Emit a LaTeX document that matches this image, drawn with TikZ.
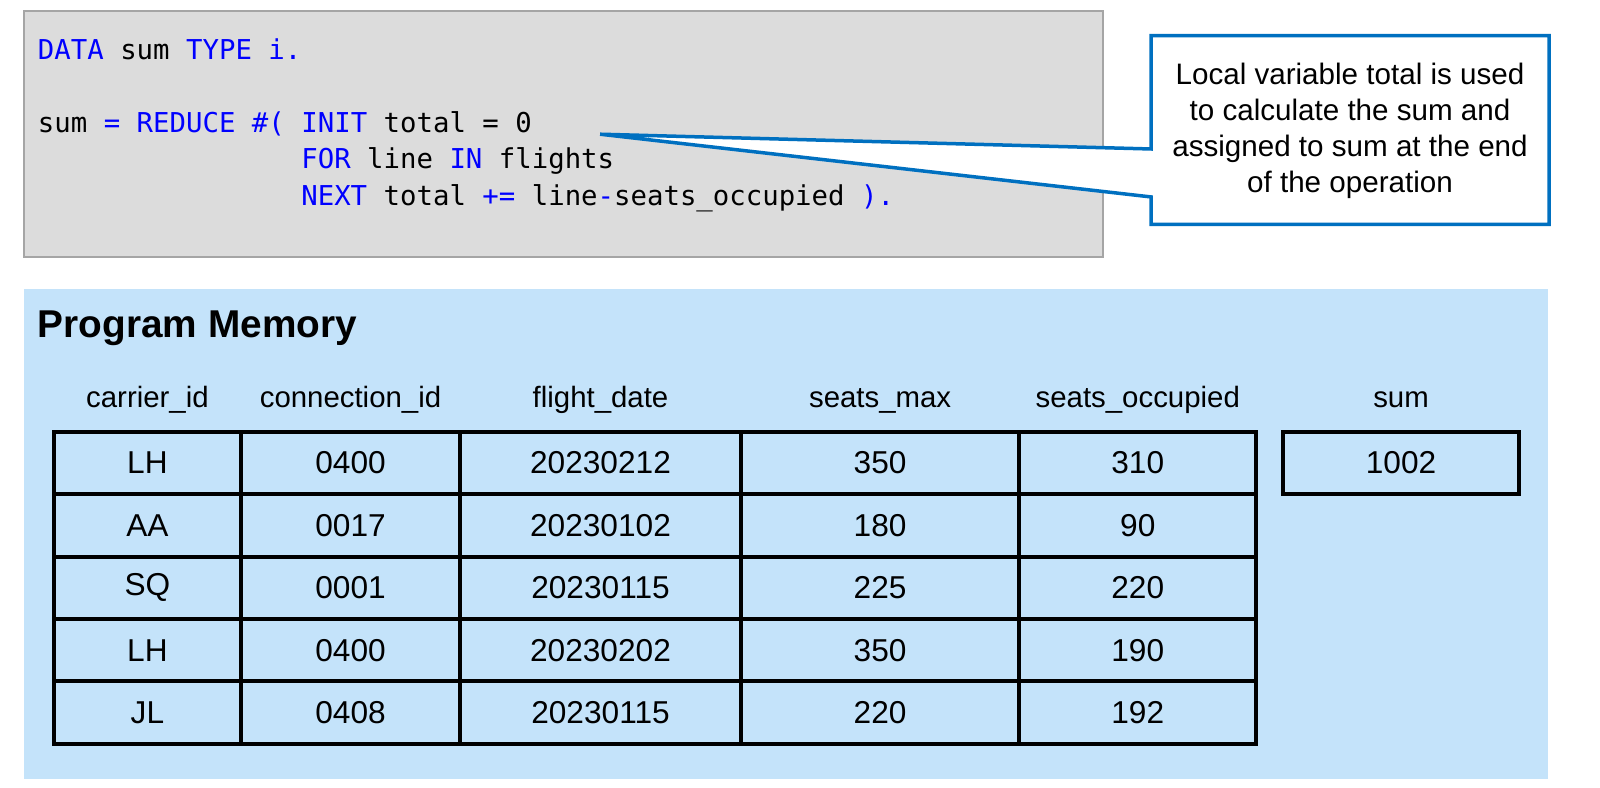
\documentclass[tikz,border=0pt]{standalone}
\usepackage{fontspec}
\setmainfont{Liberation Sans}
\newfontfamily\codefont{DejaVu Sans Mono}
\definecolor{kwblue}{RGB}{0,0,255}
\definecolor{codegray}{RGB}{220,220,220}
\definecolor{codeframe}{RGB}{165,165,165}
\definecolor{noteblue}{RGB}{0,112,192}
\definecolor{memblue}{RGB}{196,227,250}
\newcommand{\kw}[1]{\textcolor{kwblue}{#1}}

\begin{document}
\begin{tikzpicture}[x=1pt,y=-1pt,scale=1.0204]
        \useasboundingbox (0,0) rectangle (1568,772.2);

        % code box
        \draw[fill=codegray, draw=codeframe, line width=2pt] (24,11) rectangle (1081,252);
        \begin{scope}[every node/.style={anchor=base west, inner sep=0pt, transform shape, font=\codefont\fontsize{26.8}{32}\selectfont}]
          \node (decl)   at (37,58.5)     {\kw{DATA} sum \kw{TYPE} \kw{i.}};
          \node (reduce) at (37,130)      {sum \kw{=} \kw{REDUCE} \kw{\#(} \kw{INIT} total = 0};
          \node (for)    at (295.1,165.5) {\kw{FOR} line \kw{IN} flights};
          \node (next)   at (295.1,201)   {\kw{NEXT} total \kw{+=} line\kw{-}seats\_occupied \kw{).}};
        \end{scope}

        % callout
        \coordinate (tip) at (588,131.5);
        \draw[draw=noteblue, fill=white, line width=3.5pt] (1128,35) -- (1518,35) -- (1518,220) -- (1128,220)
          -- (1128,193) -- (tip) -- (1128,146) -- cycle;
        \node[align=center, transform shape, font=\fontsize{29}{35.3}\selectfont] (note) at (1323,128.5)
          {Local variable total is used\\to calculate the sum and\\assigned to sum at the end\\of the operation};

        % program memory
        \fill[memblue] (24,283) rectangle (1517,763);
        \node[anchor=base west, inner sep=0pt, transform shape, font=\bfseries\fontsize{38}{44}\selectfont] (title) at (37,331) {Program Memory};

        \begin{scope}[every node/.style={anchor=base, inner sep=0pt, transform shape, font=\fontsize{28.8}{34}\selectfont}]
          \node (h1) at (144.5,399)  {carrier\_id};
          \node (h2) at (343.5,399)  {connection\_id};
          \node (h3) at (588.5,399)  {flight\_date};
          \node (h4) at (862.5,399)  {seats\_max};
          \node (h5) at (1115,399)   {seats\_occupied};
          \node (h6) at (1373,399)   {sum};
        \end{scope}

        \begin{scope}[every node/.style={draw, line width=4pt, inner sep=0pt, minimum height=61.2pt, transform shape, font=\fontsize{31}{36}\selectfont},
            carrier/.style={minimum width=183pt}, conn/.style={minimum width=215pt},
            fdate/.style={minimum width=275pt}, smax/.style={minimum width=273pt}, socc/.style={minimum width=232pt}]
          \node[carrier] (r1-1) at (144.5,453.6) {LH};
          \node[conn]    (r1-2) at (343.5,453.6) {0400};
          \node[fdate]   (r1-3) at (588.5,453.6) {20230212};
          \node[smax]    (r1-4) at (862.5,453.6) {350};
          \node[socc]    (r1-5) at (1115,453.6)  {310};
          \node[carrier] (r2-1) at (144.5,514.8) {AA};
          \node[conn]    (r2-2) at (343.5,514.8) {0017};
          \node[fdate]   (r2-3) at (588.5,514.8) {20230102};
          \node[smax]    (r2-4) at (862.5,514.8) {180};
          \node[socc]    (r2-5) at (1115,514.8)  {90};
          \node[carrier] (r3-1) at (144.5,576)   {SQ};
          \node[conn]    (r3-2) at (343.5,576)   {0001};
          \node[fdate]   (r3-3) at (588.5,576)   {20230115};
          \node[smax]    (r3-4) at (862.5,576)   {225};
          \node[socc]    (r3-5) at (1115,576)    {220};
          \node[carrier] (r4-1) at (144.5,637.2) {LH};
          \node[conn]    (r4-2) at (343.5,637.2) {0400};
          \node[fdate]   (r4-3) at (588.5,637.2) {20230202};
          \node[smax]    (r4-4) at (862.5,637.2) {350};
          \node[socc]    (r4-5) at (1115,637.2)  {190};
          \node[carrier] (r5-1) at (144.5,698.4) {JL};
          \node[conn]    (r5-2) at (343.5,698.4) {0408};
          \node[fdate]   (r5-3) at (588.5,698.4) {20230115};
          \node[smax]    (r5-4) at (862.5,698.4) {220};
          \node[socc]    (r5-5) at (1115,698.4)  {192};
          \node[socc]    (total) at (1373,453.6) {1002};
        \end{scope}

      \end{tikzpicture}
\end{document}
